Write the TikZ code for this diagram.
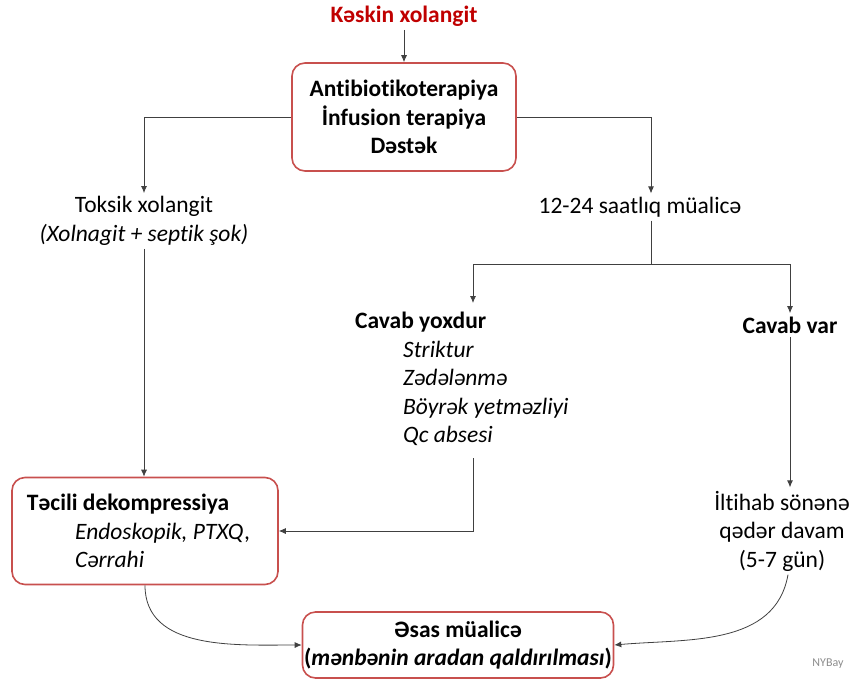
\documentclass[tikz,border=0pt]{standalone}
\usepackage{fontspec}
\setmainfont{Carlito}[Ligatures=NoCommon]
\usetikzlibrary{arrows.meta, positioning}
\definecolor{boxred}{RGB}{200,80,78}
\definecolor{titlered}{RGB}{192,0,0}
\frenchspacing

\begin{document}
\begin{tikzpicture}[x=1pt, y=1pt, font=\fontsize{23.5}{28.5}\selectfont,
    box/.style={draw=boxred, line width=1.6pt, rounded corners=13pt, inner sep=0pt},
    arr/.style={-{Latex[length=7pt, width=6pt]}, black!75, line width=0.8pt},
    ln/.style={black!75, line width=0.8pt}]
  \useasboundingbox (0,0) rectangle (854,-686);
  \clip (0,0) rectangle (854,-686);

  % top
  \node[text=titlered, font=\fontsize{23.5}{28.5}\selectfont\bfseries] (kes) at (404,-16) {Kəskin xolangit};
  \node[box, minimum width=224pt, minimum height=108pt, align=center, font=\fontsize{23.5}{28.5}\selectfont\bfseries] (ab) at (404,-117)
    {Antibiotikoterapiya\\ İnfusion terapiya\\ Dəstək};

  % second row
  \node[align=center] (tok) at (144,-221) {Toksik xolangit\\ \textit{(Xolnagit + septik şok)}};
  \node (saat) at (640,-207) {12-24 saatlıq müalicə};

  % responses
  \node[align=left, anchor=north west, inner sep=0pt] (yox) at (355,-312)
    {\textbf{Cavab yoxdur}\\
     \hspace*{48pt}\textit{Striktur}\\
     \hspace*{48pt}\textit{Zədələnmə}\\
     \hspace*{48pt}\textit{Böyrək yetməzliyi}\\
     \hspace*{48pt}\textit{Qc absesi}};
  \node[font=\fontsize{23.5}{28.5}\selectfont\bfseries] (var) at (790,-325) {Cavab var};
  \node[align=center] (ilt) at (782,-531) {İltihab sönənə\\ qədər davam\\ (5-7 gün)};

  % boxes below
  \node[box, minimum height=107pt, text width=236pt, inner xsep=15pt, align=flush left] (dek) at (145,-531)
    {\textbf{Təcili dekompressiya}\\
     \hspace*{48pt}\textit{Endoskopik, PTXQ,}\\
     \hspace*{48pt}\textit{Cərrahi}};
  \node[box, minimum width=311pt, minimum height=66pt, align=center] (esas) at (458,-645)
    {\textbf{Əsas müalicə}\\ \textbf{(\textit{mənbənin aradan qaldırılması})}};
  \node[text=black!45, font=\fontsize{12}{14}\selectfont] (sig) at (828,-664) {NYBay};

  \coordinate (split) at (651,-264);
  \coordinate (yoxin) at (473,-303);
  \coordinate (yoxout) at (473,-458);

  % connectors
  \draw[arr] (kes) -- (ab);
  \draw[arr] (ab.west) -| (tok.north);
  \draw[arr] (ab.east) -| ([xshift=11pt]saat.north);
  \draw[ln] ([xshift=11pt]saat.south) -- (split);
  \draw[arr] (split) -| (yoxin);
  \draw[arr] (split) -| (var.north);
  \draw[arr] (tok.south) -- (tok.south |- dek.north);
  \draw[arr] (yoxout) |- (dek.east);
  \draw[arr] (var.south) -- (var.south |- ilt.north);
  \draw[arr] (dek.south) to[out=-90, in=180] (esas.west);
  \draw[arr] ([xshift=6pt]ilt.south) to[out=-100, in=5] (esas.east);
\end{tikzpicture}
\end{document}
